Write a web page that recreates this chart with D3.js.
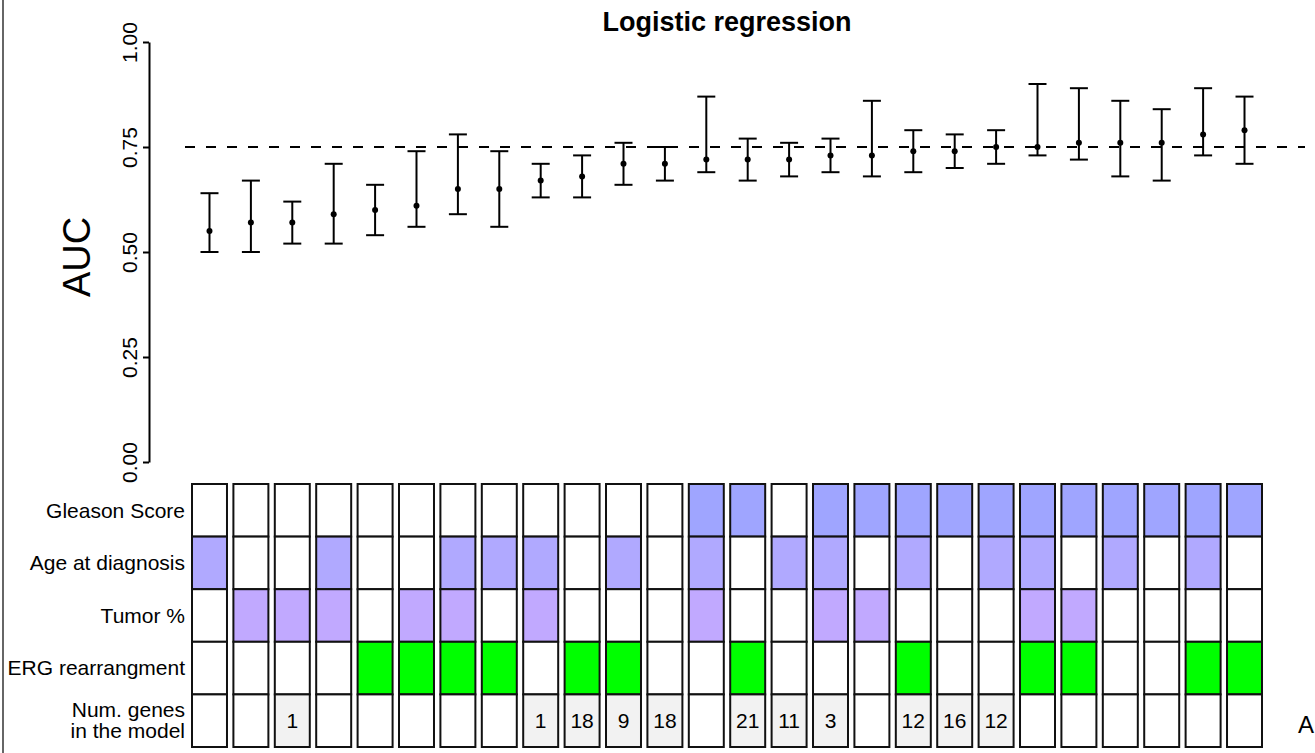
<!DOCTYPE html>
<html>
<head>
<meta charset="utf-8">
<script src="https://cdn.jsdelivr.net/npm/d3@7"></script>
<style>
  body { margin: 0; background: #fff; }
  svg { font-family: "Liberation Sans", Arial, Helvetica, sans-serif; }
</style>
</head>
<body>
<svg id="chart" width="1315" height="753"></svg>
<script>
// AUC per model (point estimate and CI), left to right
var aucMean = [0.55, 0.57, 0.57, 0.59, 0.60, 0.61, 0.65, 0.65, 0.67, 0.68, 0.71, 0.71, 0.72,
               0.72, 0.72, 0.73, 0.73, 0.74, 0.74, 0.75, 0.75, 0.76, 0.76, 0.76, 0.78, 0.79]
var aucLow  = [0.50, 0.50, 0.52, 0.52, 0.54, 0.56, 0.59, 0.56, 0.63, 0.63, 0.66, 0.67, 0.69,
               0.67, 0.68, 0.69, 0.68, 0.69, 0.70, 0.71, 0.73, 0.72, 0.68, 0.67, 0.73, 0.71]
var aucHigh = [0.64, 0.67, 0.62, 0.71, 0.66, 0.74, 0.78, 0.74, 0.71, 0.73, 0.76, 0.75, 0.87,
               0.77, 0.76, 0.77, 0.86, 0.79, 0.78, 0.79, 0.90, 0.89, 0.86, 0.84, 0.89, 0.87]

// which covariates enter each model (1 = included)
var gleason = [0,0,0,0,0,0,0,0,0,0,0,0,1,1,0,1,1,1,1,1,1,1,1,1,1,1]
var age     = [1,0,0,1,0,0,1,1,1,0,1,0,1,0,1,1,0,1,0,1,1,0,1,0,1,0]
var tumor   = [0,1,1,1,0,1,1,0,1,0,0,0,1,0,0,1,1,0,0,0,1,1,0,0,0,0]
var erg     = [0,0,0,0,1,1,1,1,0,1,1,0,0,1,0,0,0,1,0,0,1,1,0,0,1,1]
var numGenes = [null,null,1,null,null,null,null,null,1,18,9,18,null,21,11,3,null,12,16,12,
                null,null,null,null,null,null]

var rowNames = ["Gleason Score", "Age at diagnosis", "Tumor %", "ERG rearrangment", "Num. genes"]
var rowColors = ["#9fa5ff", "#b0a9ff", "#c1a9ff", "#00ff00", "#f2f2f2"]
var yTicks = [0, 0.25, 0.5, 0.75, 1]
var refLine = 0.75

var svg = d3.select("#chart")
var font = 21

var x = d3.scaleBand()
    .domain(d3.range(aucMean.length))
    .range([188.8, 1265.2])
    .paddingInner(0.155)
    .paddingOuter(0.0773)

var y = d3.scaleLinear().domain([0, 1]).range([462, 42])

var yRow = d3.scaleBand().domain(rowNames).range([484, 747])

// gray frame edge on the left
svg.append("line")
    .attr("x1", 3).attr("x2", 3).attr("y1", 0).attr("y2", 753)
    .style("stroke", "#666").style("stroke-width", 2)

// title
svg.append("text")
    .attr("x", 727).attr("y", 31)
    .attr("text-anchor", "middle")
    .style("font-size", "27px")
    .style("font-weight", "bold")
    .text("Logistic regression")

// y axis
var yAxis = svg.append("g")
    .attr("transform", "translate(149,0)")
    .call(d3.axisLeft(y).tickValues(yTicks).tickSize(6).tickSizeOuter(0).tickFormat(d3.format(".2f")))
yAxis.select(".domain").style("stroke-width", 2)
yAxis.selectAll(".tick line").style("stroke-width", 2)
yAxis.selectAll(".tick text")
    .attr("transform", "rotate(-90)")
    .attr("x", 0).attr("y", -12).attr("dy", 0)
    .attr("text-anchor", "middle")
    .style("font-size", font + "px")
    .style("font-family", "Liberation Sans, Arial, sans-serif")
    .style("fill", "#000")

svg.append("text")
    .attr("transform", "translate(90,257) rotate(-90)")
    .attr("text-anchor", "middle")
    .style("font-size", "38px")
    .text("AUC")

// reference line
svg.append("line")
    .attr("x1", 185).attr("x2", 1305)
    .attr("y1", y(refLine)).attr("y2", y(refLine))
    .style("stroke", "#000").style("stroke-width", 2)
    .style("stroke-dasharray", "10,11")

// error bars
var bars = svg.selectAll(".bar")
    .data(aucMean)
    .enter().append("g")
    .attr("class", "bar")
    .attr("transform", function(d, i) { return "translate(" + (x(i) + x.bandwidth() / 2) + ",0)" })

bars.append("line")
    .attr("y1", function(d, i) { return y(aucLow[i]) })
    .attr("y2", function(d, i) { return y(aucHigh[i]) })
    .style("stroke", "#000").style("stroke-width", 2)
bars.append("line")
    .attr("x1", -9).attr("x2", 9)
    .attr("y1", function(d, i) { return y(aucLow[i]) })
    .attr("y2", function(d, i) { return y(aucLow[i]) })
    .style("stroke", "#000").style("stroke-width", 2)
bars.append("line")
    .attr("x1", -9).attr("x2", 9)
    .attr("y1", function(d, i) { return y(aucHigh[i]) })
    .attr("y2", function(d, i) { return y(aucHigh[i]) })
    .style("stroke", "#000").style("stroke-width", 2)
bars.append("circle")
    .attr("cy", function(d) { return y(d) })
    .attr("r", 3)
    .style("fill", "#000")

// covariate grid
var rowData = [gleason, age, tumor, erg, numGenes]
var cells = []
rowData.forEach(function(arr, r) {
    arr.forEach(function(v, i) {
        cells.push({ row: r, col: i, on: r < 4 ? v === 1 : v !== null, value: v })
    })
})

svg.selectAll(".cell")
    .data(cells)
    .enter().append("rect")
    .attr("class", "cell")
    .attr("x", function(d) { return x(d.col) })
    .attr("y", function(d) { return yRow(rowNames[d.row]) })
    .attr("width", x.bandwidth())
    .attr("height", yRow.bandwidth())
    .style("fill", function(d) { return d.on ? rowColors[d.row] : "#fff" })
    .style("stroke", "#111")
    .style("stroke-width", 2)

svg.selectAll(".num")
    .data(cells.filter(function(d) { return d.row === 4 && d.value !== null }))
    .enter().append("text")
    .attr("class", "num")
    .attr("x", function(d) { return x(d.col) + x.bandwidth() / 2 })
    .attr("y", yRow("Num. genes") + yRow.bandwidth() / 2)
    .attr("dy", "0.35em")
    .attr("text-anchor", "middle")
    .style("font-size", font + "px")
    .text(function(d) { return d.value })

// row labels
rowNames.slice(0, 4).forEach(function(name) {
    svg.append("text")
        .attr("x", 185)
        .attr("y", yRow(name) + yRow.bandwidth() / 2)
        .attr("dy", "0.35em")
        .attr("text-anchor", "end")
        .style("font-size", font + "px")
        .text(name)
})
var lastMid = yRow("Num. genes") + yRow.bandwidth() / 2
var numLabel = svg.append("text")
    .attr("text-anchor", "end")
    .style("font-size", font + "px")
numLabel.append("tspan").attr("x", 185).attr("y", lastMid - 4).text("Num. genes")
numLabel.append("tspan").attr("x", 185).attr("y", lastMid + 17).text("in the model")

// panel letter, clipped at the right edge
svg.append("text")
    .attr("x", 1298).attr("y", 733)
    .style("font-size", "24px")
    .text("A")
</script>
</body>
</html>
